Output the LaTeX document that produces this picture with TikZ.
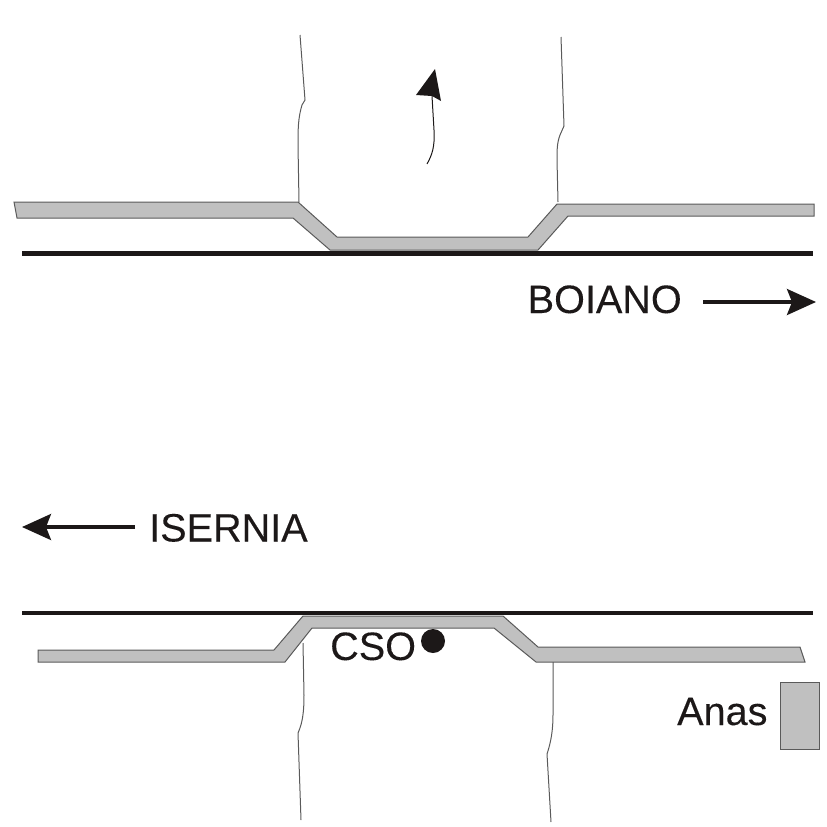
\documentclass[tikz,border=0pt]{standalone}
\usepackage{fontspec}
\setmainfont[FakeBold=0.15]{Liberation Sans}
\usetikzlibrary{arrows.meta}
\definecolor{roadgrey}{RGB}{192,192,192}
\definecolor{edgegrey}{RGB}{90,90,90}
\definecolor{inkblack}{RGB}{28,24,24}
\tikzset{
  road/.style={fill=roadgrey,draw=edgegrey,line width=1pt,line join=miter},
  railway/.style={draw=inkblack,line width=4.6pt},
  stream/.style={draw=edgegrey,line width=1pt},
  label/.style={inner sep=0pt,text=inkblack,font=\fontsize{39.6}{39.6}\selectfont,anchor=base west},
  bigarrow/.style={draw=inkblack,line width=3.2pt,-{Stealth[length=29pt,width=26pt,inset=5pt]}},
}
\begin{document}
\begin{tikzpicture}[x=1pt,y=-1pt]
\useasboundingbox (0,0) rectangle (827,827);
% top road
\draw[road] (14,202) -- (298,202) -- (337,237) -- (528,237) -- (557,204) -- (814,204) -- (814,216) -- (568,216) -- (538,250) -- (330,250) -- (293,218) -- (17,218) -- cycle;
% bottom road
\draw[road] (38,650) -- (274,650) -- (303,616) -- (503,616) -- (538,647) -- (800,647) -- (805,662) -- (536,662) -- (494,628) -- (312,628) -- (285,662) -- (38,662) -- cycle;
% railway lines
\coordinate (topL) at (22,253.5);
\coordinate (topR) at (813,253.5);
\coordinate (botL) at (22,613);
\coordinate (botR) at (813,613);
\draw[railway] (topL) -- (topR);
\draw[railway] (botL) -- (botR);
% streams
\draw[stream] (300,35) -- (305,100) -- (302,105) .. controls (298,118) and (298,130) .. (298,145) -- (299,202);
\draw[stream] (561,37) -- (564,126) -- (560,135) .. controls (557,143) and (557,150) .. (557,160) -- (558,202);
\draw[stream] (303,643) -- (304,695) .. controls (304,710) and (303,722) .. (298,733) -- (301,820);
\draw[stream] (553,662) -- (553,715) .. controls (553,730) and (551,742) .. (547,754) -- (551,822);
% curved arrow
\coordinate (flowS) at (427,164);
\coordinate (flowE) at (432,96);
\coordinate (flowT) at (435,69);
\coordinate (flowA) at (416,95);
\coordinate (flowB) at (441,101);
\draw[stream,draw=inkblack] (flowS) .. controls (432,155) and (435,147) .. (434,130) -- (flowE);
\fill[inkblack] (flowT) -- (flowB) -- (flowE) -- (flowA) -- cycle;
% direction arrows
\coordinate (boiS) at (703,302);
\coordinate (boiE) at (816,302);
\coordinate (iseS) at (135,527);
\coordinate (iseE) at (22,527);
\draw[bigarrow] (boiS) -- (boiE);
\draw[bigarrow] (iseS) -- (iseE);
% labels
\node[label] (boiano) at (527.5,313) {BOIANO};
\node[label] (isernia) at (149,541.5) {ISERNIA};
\node[label] (cso) at (330,660) {CSO};
\node[label] (anas) at (677,725) {Anas};
% CSO dot and Anas box
\node[circle,fill=inkblack,minimum size=24pt,inner sep=0pt] (dot) at (433,641) {};
\node[rectangle,fill=roadgrey,draw=edgegrey,line width=1pt,minimum width=39pt,minimum height=67pt,inner sep=0pt] (anasbox) at (799.5,715.5) {};
\end{tikzpicture}
\end{document}
